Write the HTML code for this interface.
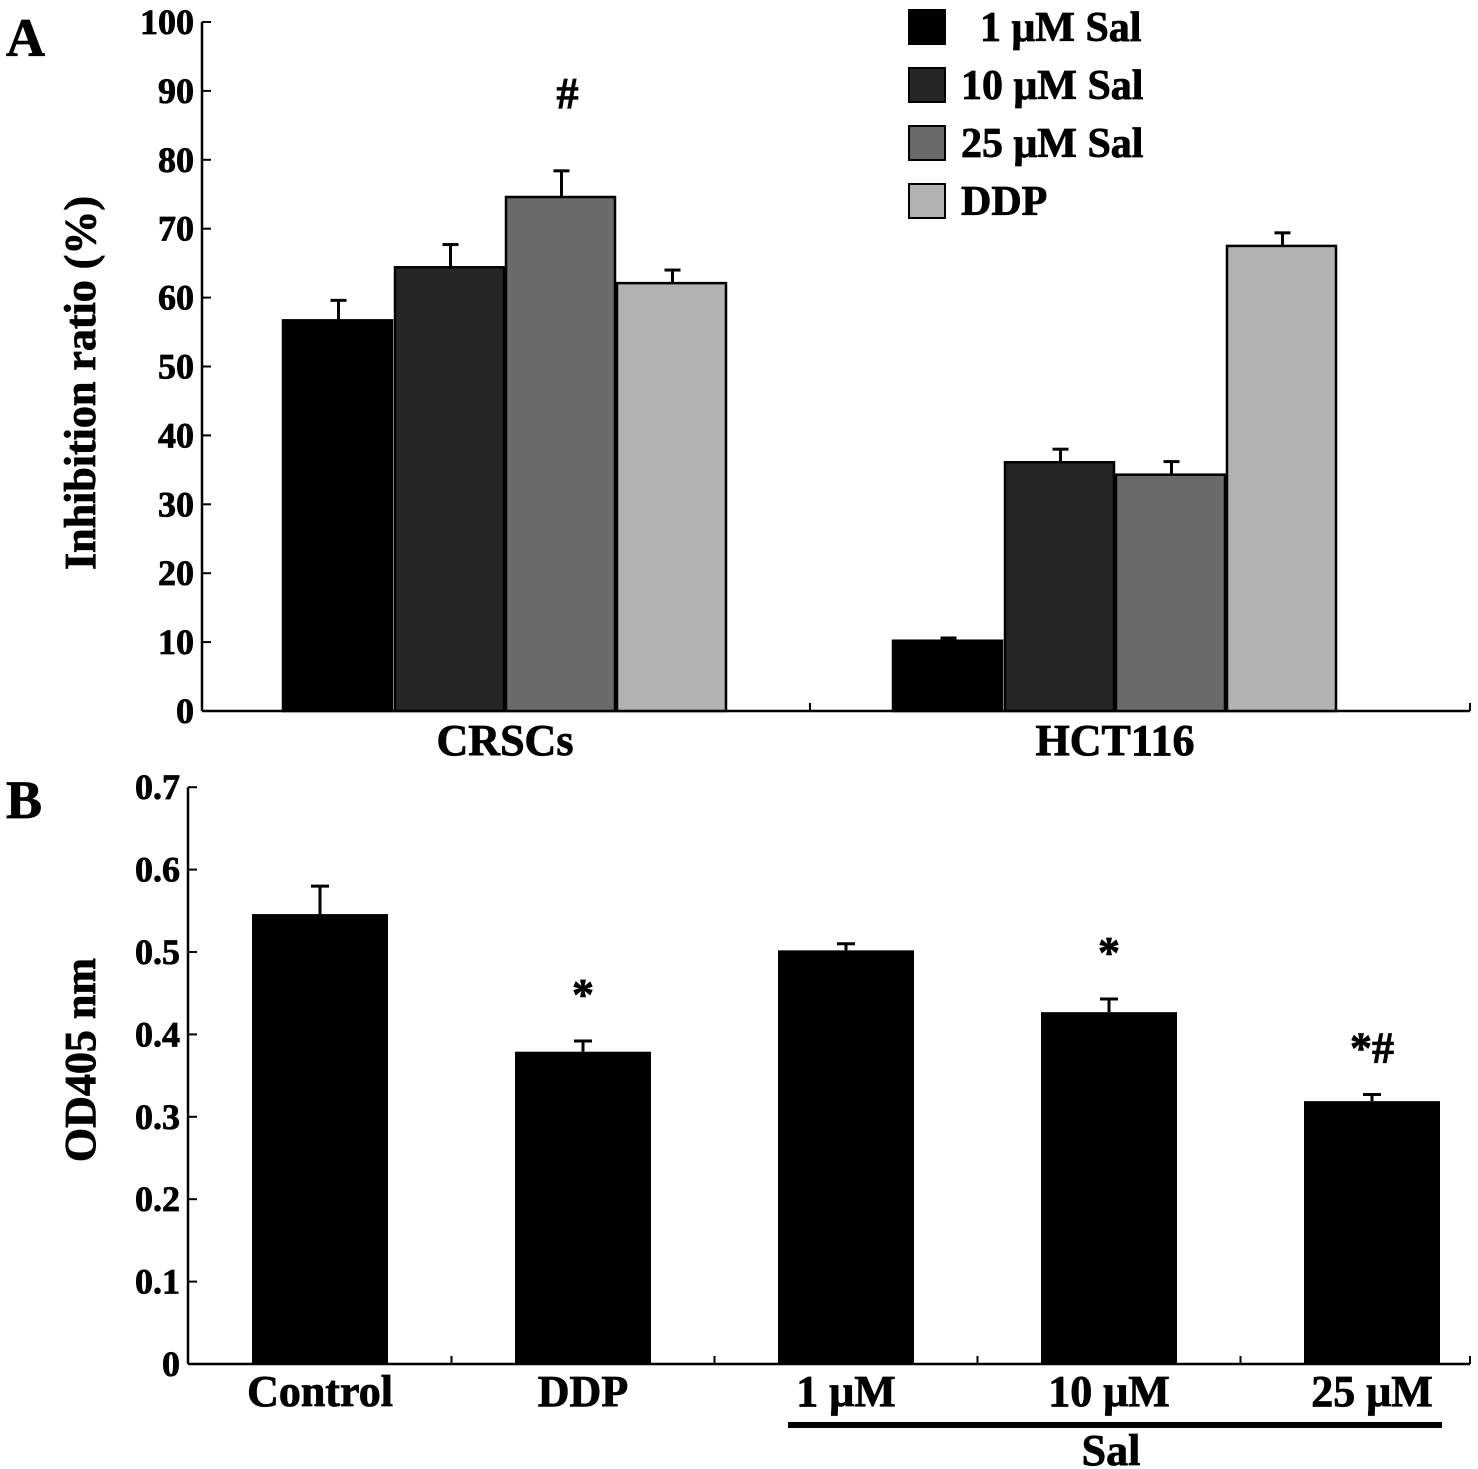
<!DOCTYPE html>
<html><head><meta charset="utf-8"><style>
html,body{margin:0;padding:0;background:#fff;}
svg{display:block;font-family:"Liberation Serif",serif;font-weight:bold;}
svg text{stroke:#000;stroke-width:0.8;}
</style></head><body>
<svg id="c" width="1478" height="1469" viewBox="0 0 1478 1469"></svg>
<script>
// Panel A data
const groupsA = ["CRSCs","HCT116"];
const seriesA = ["1 μM Sal","10 μM Sal","25 μM Sal","DDP"];
const valsA = [[56.7,64.4,74.6,62.1],[10.2,36.1,34.3,67.5]];
const errA = [[2.9,3.3,3.8,1.9],[0.4,1.9,1.9,1.9]];
const ticksA = [0,10,20,30,40,50,60,70,80,90,100];
const colorsA = ["#000000","#262626","#6a6a6a","#b2b2b2"];
const marksA = ["","","#",""];
// Panel B data
const catsB = ["Control","DDP","1 μM","10 μM","25 μM"];
const valsB = [0.546,0.379,0.502,0.427,0.319];
const errB = [0.034,0.013,0.008,0.016,0.008];
const ticksB = [0,0.1,0.2,0.3,0.4,0.5,0.6,0.7];
const marksB = ["","*","","*","*#"];

const svg=document.getElementById('c');
const NS="http://www.w3.org/2000/svg";
function mk(t,a,p){const e=document.createElementNS(NS,t);for(const k in a)e.setAttribute(k,a[k]);(p||svg).appendChild(e);return e;}

// ---- Panel A ----
const yA=v=>711-v*6.89;
const ax0=202, ax1=1470;
let e;
e=mk('text',{x:6,y:56,'font-size':54});e.textContent='A';

e=mk('line',{x1:ax0,y1:yA(100),x2:ax0,y2:711,stroke:'#000','stroke-width':2.5});

e=mk('line',{x1:ax0,y1:711,x2:ax1,y2:711,stroke:'#000','stroke-width':2.5});

[810,ax1].forEach(x=>{mk('line',{x1:x,y1:711,x2:x,y2:703,stroke:'#000','stroke-width':2});});
ticksA.forEach(t=>{
  mk('line',{x1:ax0,y1:yA(t),x2:ax0+9,y2:yA(t),stroke:'#000','stroke-width':2});
  e=mk('text',{x:ax0-8,y:yA(t)+12,'font-size':36,'text-anchor':'end'});e.textContent=t;
  
});
e=mk('text',{x:0,y:0,'font-size':44,'text-anchor':'middle',transform:'translate(95,383) rotate(-90)'});
e.textContent='Inhibition ratio (%)';

const gStart=[283,893], bw=111;
groupsA.forEach((g,gi)=>{
  valsA[gi].forEach((v,si)=>{
    const x=gStart[gi]+si*bw+(si?1:0);
    e=mk('line',{x1:x+bw/2,y1:yA(v),x2:x+bw/2,y2:yA(v+errA[gi][si]),stroke:'#000','stroke-width':3});
    
    mk('line',{x1:x+bw/2-8,y1:yA(v+errA[gi][si]),x2:x+bw/2+8,y2:yA(v+errA[gi][si]),stroke:'#000','stroke-width':3});
    e=mk('rect',{x:x,y:yA(v),width:bw-2,height:711-yA(v),fill:colorsA[si],stroke:'#000','stroke-width':2.5});
    
    if(gi===0&&marksA[si]){e=mk('text',{x:x+bw/2+6,y:yA(v+errA[gi][si])-63,'font-size':44,'text-anchor':'middle'});e.textContent=marksA[si];
      }
  });
  e=mk('text',{x:gStart[gi]+2*bw,y:755,'font-size':44,'text-anchor':'middle'});e.textContent=g;
  
});
seriesA.forEach((s,i)=>{
  const y=10+i*58;
  e=mk('rect',{x:909,y:y,width:36,height:34,fill:colorsA[i],stroke:'#000','stroke-width':2});
  
  e=mk('text',{x:i===0?980:961,y:y+31,'font-size':42});e.textContent=s;
  
});

// ---- Panel B ----
const yB=v=>1364-v*824;
const bx0=188;
e=mk('text',{x:6,y:818,'font-size':54});e.textContent='B';

e=mk('line',{x1:bx0,y1:yB(0.7),x2:bx0,y2:1364,stroke:'#000','stroke-width':2.5});

e=mk('line',{x1:bx0,y1:1364,x2:ax1,y2:1364,stroke:'#000','stroke-width':2.5});

ticksB.forEach(t=>{
  mk('line',{x1:bx0,y1:yB(t),x2:bx0+9,y2:yB(t),stroke:'#000','stroke-width':2});
  e=mk('text',{x:bx0-8,y:yB(t)+12,'font-size':36,'text-anchor':'end'});e.textContent=t===0?'0':t.toFixed(1);
  
});
e=mk('text',{x:0,y:0,'font-size':44,'text-anchor':'middle',transform:'translate(95,1060) rotate(-90)'});
e.textContent='OD405 nm';

const c0=320, step=263;
catsB.forEach((c,i)=>{
  const cx=c0+step*i;
  const tx = i<4 ? cx+step/2 : ax1;
  mk('line',{x1:tx,y1:1364,x2:tx,y2:1356,stroke:'#000','stroke-width':2});
  const v=valsB[i], top=yB(v+errB[i]);
  e=mk('line',{x1:cx,y1:yB(v),x2:cx,y2:top,stroke:'#000','stroke-width':3});
  
  mk('line',{x1:cx-9,y1:top,x2:cx+9,y2:top,stroke:'#000','stroke-width':3});
  e=mk('rect',{x:cx-68,y:yB(v),width:136,height:1364-yB(v),fill:'#000'});
  
  if(marksB[i]){e=mk('text',{x:cx,y:top-32,'font-size':44,'text-anchor':'middle'});e.textContent=marksB[i];
    }
  e=mk('text',{x:cx,y:1406,'font-size':44,'text-anchor':'middle'});e.textContent=c;
  
});
e=mk('line',{x1:788,y1:1425,x2:1442,y2:1425,stroke:'#000','stroke-width':6});

e=mk('text',{x:1111,y:1465,'font-size':44,'text-anchor':'middle'});e.textContent='Sal';

</script>
</body></html>
